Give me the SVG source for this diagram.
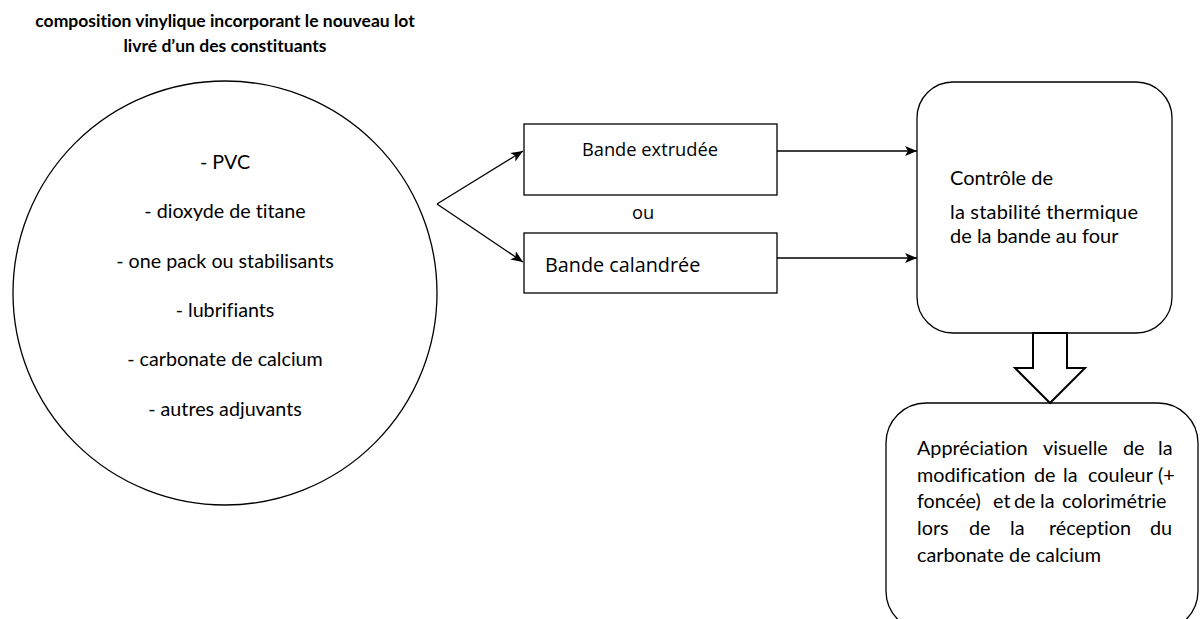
<svg xmlns="http://www.w3.org/2000/svg" width="1200" height="619" viewBox="0 0 1200 619">
<style>
text{font-variant-ligatures:none;}
.calib{font-family:Lato,"Liberation Sans",sans-serif;fill:#000;}
.sans{font-family:"Open Sans","Liberation Sans",sans-serif;fill:#000;}
.shape{fill:#fff;stroke:#000;stroke-width:1.3;}
.line{fill:none;stroke:#000;stroke-width:1.3;}
</style>
<defs>
<marker id="arr" viewBox="0 0 12 10" refX="12" refY="5" markerWidth="12" markerHeight="10" markerUnits="userSpaceOnUse" orient="auto">
<path d="M0,0 L12,5 L0,10 L3,5 Z" fill="#000"/>
</marker>
</defs>
<rect width="1200" height="619" fill="#fff"/>
<g id="title">
<text class="calib" x="225" y="27" font-size="17.5" font-weight="bold" text-anchor="middle">composition vinylique incorporant le nouveau lot</text>
<text class="calib" x="225" y="52" font-size="17.5" font-weight="bold" text-anchor="middle">livré d’un des constituants</text>
</g>
<g id="composition">
<circle class="shape" cx="225" cy="293" r="212"/>
<g class="calib" font-size="19.7" text-anchor="middle">
<text x="225" y="169">- PVC</text>
<text x="225" y="218">- dioxyde de titane</text>
<text x="225" y="268">- one pack ou stabilisants</text>
<text x="225" y="317">- lubrifiants</text>
<text x="225" y="366">- carbonate de calcium</text>
<text x="225" y="416">- autres adjuvants</text>
</g>
</g>
<g id="bande-extrudee">
<rect class="shape" x="524" y="124" width="253" height="71"/>
<text class="sans" x="650" y="156" font-size="18.3" text-anchor="middle">Bande extrudée</text>
</g>
<g id="ou">
<text class="sans" x="643" y="219" font-size="18.3" text-anchor="middle">ou</text>
</g>
<g id="bande-calandree">
<rect class="shape" x="524" y="233" width="253" height="60"/>
<text class="sans" x="545" y="272" font-size="19.8">Bande calandrée</text>
</g>
<g id="controle">
<rect class="shape" x="917" y="82" width="255" height="251" rx="36" ry="36"/>
<g class="calib" font-size="20">
<text x="950" y="185">Contrôle de</text>
<text x="950" y="219" textLength="188" lengthAdjust="spacing">la stabilité thermique</text>
<text x="950" y="243">de la bande au four</text>
</g>
</g>
<g id="appreciation">
<rect class="shape" x="886" y="403" width="312" height="228" rx="40" ry="40"/>
<g class="calib" font-size="19.8">
<text y="455"><tspan x="917">Appréciation</tspan><tspan x="1043">visuelle</tspan><tspan x="1123">de</tspan><tspan x="1158">la</tspan></text>
<text y="482"><tspan x="917">modification</tspan><tspan x="1034">de</tspan><tspan x="1063">la</tspan><tspan x="1088">couleur</tspan><tspan x="1158">(+</tspan></text>
<text y="508"><tspan x="917">foncée)</tspan><tspan x="993">et</tspan><tspan x="1014">de</tspan><tspan x="1040">la</tspan><tspan x="1062">colorimétrie</tspan></text>
<text y="535"><tspan x="917">lors</tspan><tspan x="969">de</tspan><tspan x="1010">la</tspan><tspan x="1049">réception</tspan><tspan x="1150">du</tspan></text>
<text x="917" y="562">carbonate de calcium</text>
</g>
</g>
<g id="connectors">
<path class="line" d="M437,204 L523,151" marker-end="url(#arr)"/>
<path class="line" d="M437,204 L523,262" marker-end="url(#arr)"/>
<line class="line" x1="777" y1="151" x2="917" y2="151" marker-end="url(#arr)"/>
<line class="line" x1="777" y1="258" x2="917" y2="258" marker-end="url(#arr)"/>
<path d="M1033,333 L1067,333 L1067,368 L1085,368 L1050,403 L1015,368 L1033,368 Z" fill="#fff" stroke="#000" stroke-width="2"/>
</g>
</svg>
